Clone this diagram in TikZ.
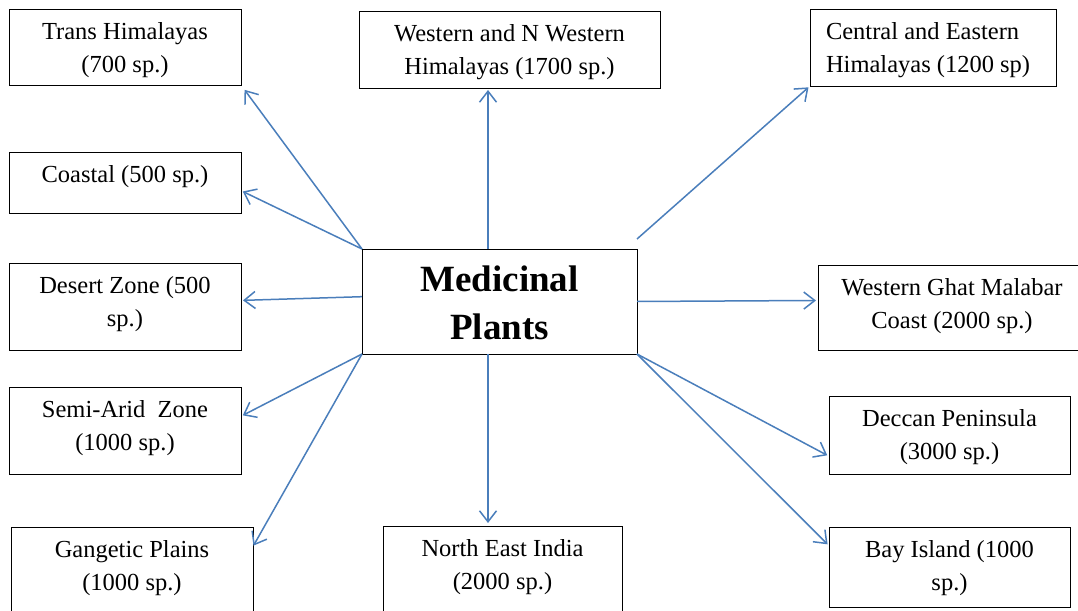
\documentclass[tikz,border=0pt]{standalone}
\usepackage{fontspec}
\setmainfont{Liberation Serif}
\usetikzlibrary{arrows.meta}
\definecolor{arrblue}{HTML}{4A7EBB}
\newcommand{\zbox}[3]{\parbox[c][#1][t]{#2}{\centering\rule{0pt}{30.5pt}#3\par}}
\newcommand{\zboxl}[3]{\parbox[c][#1][t]{#2}{\raggedright\leftskip=16pt\rule{0pt}{30.5pt}#3\par}}
\tikzset{
  zone/.style={draw=black, line width=0.9pt, rectangle, inner sep=0pt, outer sep=0pt,
    font=\fontsize{24.5}{33}\selectfont},
  hub/.style={draw=black, line width=0.9pt, rectangle, inner sep=0pt, outer sep=0pt,
    font=\fontsize{37}{48}\selectfont\bfseries},
  arr/.style={draw=arrblue, line width=1.5pt, -{Straight Barb[length=11pt,width=17pt]}}
}
\begin{document}
\begin{tikzpicture}[x=1pt,y=1pt]
\useasboundingbox (0,0) rectangle (1078,610);
\clip (0,0) rectangle (1078,610);
\fill[white] (0,0) rectangle (1078,610);
\node[hub] (center) at (499.5,308.5) {\parbox[c][105pt][t]{275pt}{\centering\rule{0pt}{43pt}Medicinal\\Plants\par}};
\node[zone] (trans) at (125,563) {\zbox{76pt}{232pt}{Trans Himalayas\\(700 sp.)}};
\node[zone] (westN) at (509.5,560.5) {\zbox{77pt}{301pt}{Western and N Western\\Himalayas (1700 sp.)}};
\node[zone] (central) at (933,562.5) {\zboxl{77pt}{246pt}{Central and Eastern\\Himalayas (1200 sp)}};
\node[zone] (coastal) at (125,427.5) {\zbox{61pt}{232pt}{Coastal (500 sp.)}};
\node[zone] (desert) at (125,303.5) {\zbox{87pt}{232pt}{Desert Zone (500\\sp.)}};
\node[zone] (semi) at (125,179.5) {\zbox{87pt}{232pt}{Semi-Arid\ \ Zone\\(1000 sp.)}};
\node[zone] (gangetic) at (132,40) {\zbox{86pt}{242pt}{Gangetic Plains\\(1000 sp.)}};
\node[zone] (ne) at (502.5,40.5) {\zbox{87pt}{239pt}{North East India\\(2000 sp.)}};
\node[zone] (westGhat) at (952,302.5) {\zbox{85pt}{268pt}{Western Ghat Malabar\\Coast (2000 sp.)}};
\node[zone] (deccan) at (949.5,175) {\zbox{78pt}{241pt}{Deccan Peninsula\\(3000 sp.)}};
\node[zone] (bay) at (949.5,43) {\zbox{80pt}{241pt}{Bay Island (1000\\sp.)}};
\coordinate (cstart) at ([yshift=10pt]center.north east);
\draw[arr, shorten >=6pt] (center.north west) -- (trans.south east);
\draw[arr, shorten >=2pt] (center.north west) -- (coastal.-4.2);
\draw[arr, shorten >=2pt] (center.178.5) -- (desert.3.2);
\draw[arr, shorten >=2pt] (center.south west) -- (semi.7.1);
\draw[arr, shorten >=1pt] (center.south west) -- (gangetic.11.7);
\draw[arr, shorten >=2pt] ([xshift=-11.5pt]center.north) -- ([xshift=-21.5pt]westN.south);
\draw[arr, shorten >=2pt] (cstart) -- (central.south west);
\draw[arr, shorten >=2pt] (center.0.4) -- (westGhat.177.2);
\draw[arr, shorten >=2pt] (center.south east) -- (deccan.190.8);
\draw[arr, shorten >=2pt] (center.south east) -- (bay.170.1);
\draw[arr, shorten >=3pt] ([xshift=-11.5pt]center.south) -- ([xshift=-14.5pt]ne.north);
\end{tikzpicture}
\end{document}
